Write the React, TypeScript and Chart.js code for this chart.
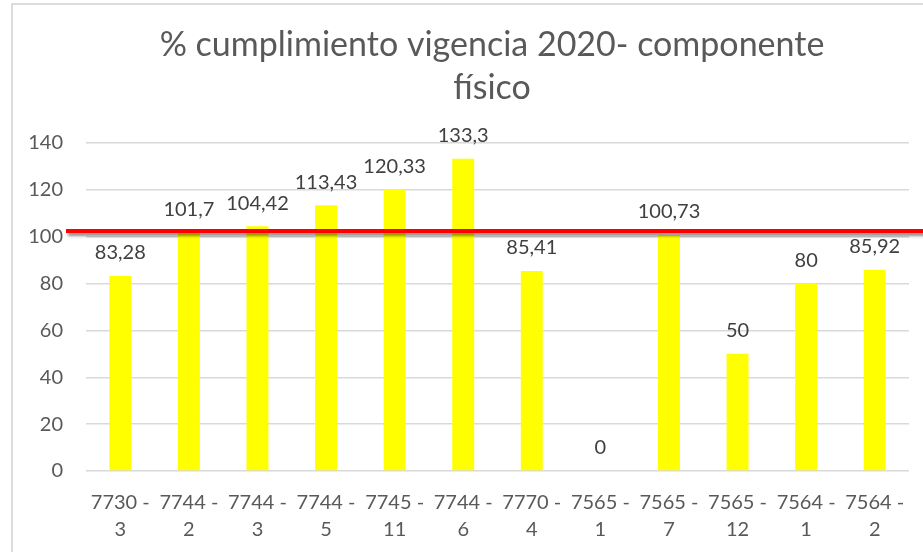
import React, { useEffect, useRef } from "react";
import { Chart, registerables } from "chart.js";

Chart.register(...registerables);

const titleLines = ["% cumplimiento vigencia 2020- componente", "físico"];
const categories: string[][] = [
  ["7730 -", "3"],
  ["7744 -", "2"],
  ["7744 -", "3"],
  ["7744 -", "5"],
  ["7745 -", "11"],
  ["7744 -", "6"],
  ["7770 -", "4"],
  ["7565 -", "1"],
  ["7565 -", "7"],
  ["7565 -", "12"],
  ["7564 -", "1"],
  ["7564 -", "2"],
];
const values = [83.28, 101.7, 104.42, 113.43, 120.33, 133.3, 85.41, 0, 100.73, 50, 80, 85.92];
const yTicks = [0, 20, 40, 60, 80, 100, 120, 140];
const referenceLine = 102.4;

const FONT = "Lato";
const TEXT = "#595959";

const fmt = (v: number) => String(v).replace(".", ",");

const decorPlugin = {
  id: "decor",
  beforeDraw(chart: any) {
    const ctx = chart.ctx;
    ctx.save();
    ctx.fillStyle = "#ffffff";
    ctx.fillRect(0, 0, chart.width, chart.height);
    ctx.strokeStyle = "#dcdcdc";
    ctx.lineWidth = 2;
    ctx.strokeRect(12, 4, chart.width + 50, chart.height + 50);
    ctx.fillStyle = TEXT;
    ctx.font = `34px ${FONT}`;
    ctx.textAlign = "center";
    ctx.textBaseline = "middle";
    titleLines.forEach((t, i) => ctx.fillText(t, 492, 45 + i * 43));
    ctx.restore();
  },
  afterDatasetsDraw(chart: any) {
    const ctx = chart.ctx;
    const meta = chart.getDatasetMeta(0);
    ctx.save();
    ctx.fillStyle = "#404040";
    ctx.font = `20px ${FONT}`;
    ctx.textAlign = "center";
    ctx.textBaseline = "middle";
    meta.data.forEach((bar: any, i: number) => {
      ctx.fillText(fmt(values[i]), bar.x, bar.y - 23);
    });
    const y = chart.scales.y.getPixelForValue(referenceLine);
    ctx.shadowColor = "rgba(0,0,0,0.45)";
    ctx.shadowBlur = 3;
    ctx.shadowOffsetX = 2;
    ctx.shadowOffsetY = 3;
    ctx.strokeStyle = "#ff0000";
    ctx.lineWidth = 4;
    ctx.beginPath();
    ctx.moveTo(66, y);
    ctx.lineTo(chart.width + 10, y);
    ctx.stroke();
    ctx.restore();
  },
};

export default function App() {
  const ref = useRef<HTMLCanvasElement>(null);
  useEffect(() => {
    document.body.style.margin = "0";
    document.body.style.overflow = "hidden";
    const chart = new Chart(ref.current!, {
      type: "bar",
      data: {
        labels: categories,
        datasets: [
          {
            data: values,
            backgroundColor: "#ffff00",
            barPercentage: 0.32,
            categoryPercentage: 1,
          },
        ],
      },
      options: {
        responsive: false,
        animation: false,
        layout: { padding: { top: 143, right: 14, left: 0, bottom: 0 } },
        plugins: { legend: { display: false }, tooltip: { enabled: false }, title: { display: false } },
        scales: {
          x: {
            grid: { display: false, drawTicks: false },
            border: { display: false },
            ticks: {
              color: TEXT,
              font: { family: FONT, size: 20, lineHeight: 1.35 },
              padding: 18,
              maxRotation: 0,
              autoSkip: false,
            },
            afterFit: (s: any) => {
              s.height = 81;
            },
          },
          y: {
            min: 0,
            max: 140,
            afterBuildTicks: (s: any) => {
              s.ticks = yTicks.map((v) => ({ value: v }));
            },
            grid: { color: "#d9d9d9", lineWidth: 1.5, drawTicks: false },
            border: { display: false },
            ticks: {
              color: TEXT,
              font: { family: FONT, size: 20 },
              padding: 23,
            },
            afterFit: (s: any) => {
              s.width = 86;
            },
          },
        },
      },
      plugins: [decorPlugin],
    });
    return () => chart.destroy();
  }, []);
  return (
    <div style={{ width: 923, height: 552 }}>
      <canvas ref={ref} width={923} height={552} style={{ display: "block" }} />
    </div>
  );
}
